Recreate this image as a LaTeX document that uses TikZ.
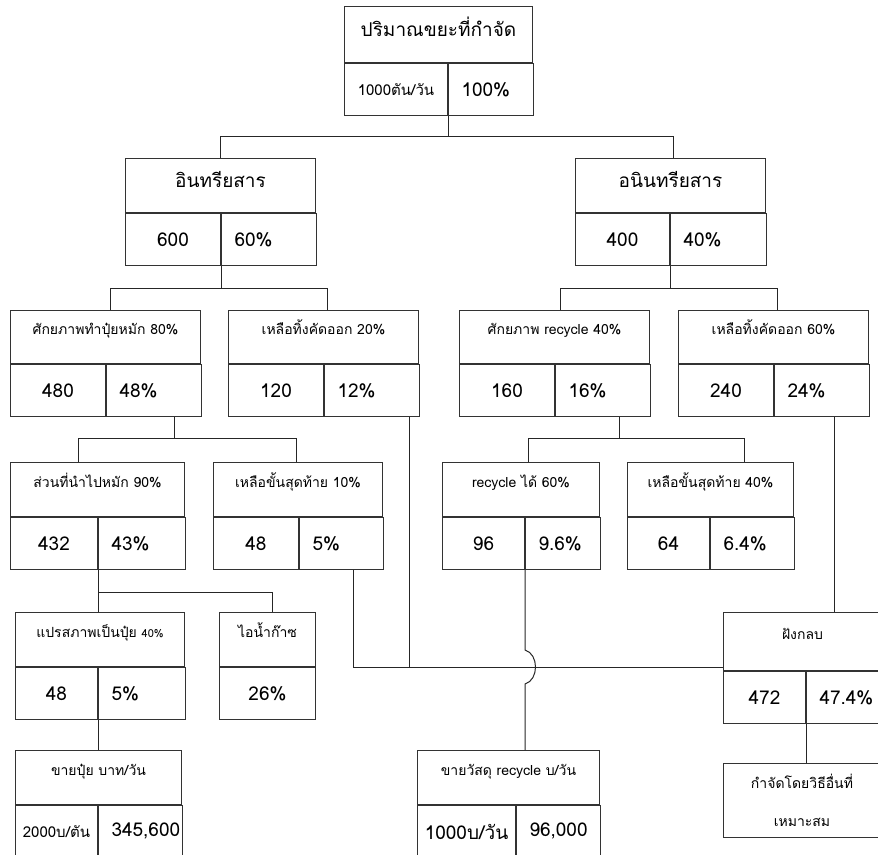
\documentclass[tikz,border=0pt]{standalone}
\usepackage{fontspec}
\newfontfamily\thaifont[Script=Thai]{Loma}
\usetikzlibrary{calc}
\newcommand\szA{\fontsize{19}{22}\selectfont}
\newcommand\szV{\fontsize{19}{21}\selectfont}
\newcommand\szS{\fontsize{15}{17}\selectfont}
\tikzset{
  box/.style={draw=black!80, line width=1pt, inner sep=0pt, anchor=north west,
    font=\thaifont\fontsize{14}{16}\selectfont},
  headA/.style={minimum height=54, text height=14pt, text depth=10pt, font=\thaifont\szA},
  headB/.style={minimum height=54, text height=10pt, text depth=15pt},
  link/.style={draw=black!85, line width=1pt},
}
% box with a title row and two value cells
\newcommand\tbox[9]{%
  \pgfmathsetmacro\rtw{#5-26}%
  \node[box, minimum width=#4+#5, #6] (#1) at (#2,#3) {#7};
  \node[box, minimum width=#4, minimum height=52] (#1l) at (#1.south west) {\szV #8};
  \node[box, minimum width=#5, minimum height=52, text width=\rtw pt, align=left]
    (#1r) at (#1l.north east) {\szV #9};
}
\begin{document}
\begin{tikzpicture}[x=1pt,y=-1pt]
  \useasboundingbox (0,0) rectangle (878,854);
  \clip (0,0) rectangle (878,854);
  % level 0 and 1
  \tbox{tot}{344}{6}{103}{85}{headA, minimum height=56}{ปริมาณขยะที่กำจัด}{\szS 1000ตัน/วัน}{100\%}
  \tbox{org}{125}{158}{95}{95}{headA}{อินทรียสาร}{600}{60\%}
  \tbox{inorg}{575}{158}{94}{96}{headA}{อนินทรียสาร}{400}{40\%}
  % level 2
  \tbox{comp}{10}{310}{95}{95}{headB, minimum height=53}{ศักยภาพทำปุ๋ยหมัก 80\%}{480}{48\%}
  \tbox{rej1}{228}{310}{95}{95}{headB, minimum height=53}{เหลือทิ้งคัดออก 20\%}{120}{12\%}
  \tbox{recy}{459}{310}{95}{95}{headB, minimum height=53}{ศักยภาพ recycle 40\%}{160}{16\%}
  \tbox{rej2}{678}{310}{95}{95}{headB, minimum height=53}{เหลือทิ้งคัดออก 60\%}{240}{24\%}
  % level 3
  \tbox{part}{10}{462}{87}{87}{headB}{ส่วนที่นำไปหมัก 90\%}{432}{43\%}
  \tbox{last1}{213}{462}{85}{84}{headB}{เหลือขั้นสุดท้าย 10\%}{48}{5\%}
  \tbox{recok}{442}{462}{82}{75}{headB}{recycle ได้ 60\%}{96}{9.6\%}
  \tbox{last2}{627}{462}{82}{84}{headB}{เหลือขั้นสุดท้าย 40\%}{64}{6.4\%}
  % level 4
  \tbox{fert}{15}{612}{82}{87}{headB}{แปรสภาพเป็นปุ๋ย {\fontsize{11}{13}\selectfont 40\%}}{48}{5\%}
  \node[box, headB] (steam) at (219,612) [minimum width=96] {ไอน้ำก๊าซ};
  \node[box, minimum width=96, minimum height=52] (steamv) at (steam.south west) {\szV 26\%};
  \tbox{land}{723}{612}{82}{76}{headB, minimum height=58}{ฝังกลบ}{472}{47.4\%}
  % level 5
  \tbox{sellf}{15}{750}{82}{84}{headB}{ขายปุ๋ย บาท/วัน}{\szS 2000บ/ตัน}{345,600}
  \tbox{sellr}{417}{750}{98}{84}{headB}{ขายวัสดุ recycle บ/วัน}{1000บ/วัน}{96,000}
  \node[box, minimum width=157, minimum height=74, align=center,
    font=\thaifont\fontsize{14}{38}\selectfont] (other) at (723,763) {กำจัดโดยวิธีอื่นที่\\เหมาะสม};

  % connectors
  \draw[link] (totl.south east) -- ++(0,20) coordinate (j0) -| (org.north);
  \draw[link] (j0) -| ([xshift=3]inorg.north);
  \draw[link] (orgl.south east) -- ++(0,22) coordinate (j1) -| ([xshift=5]comp.north);
  \draw[link] (j1) -| ([xshift=4]rej1.north);
  \draw[link] (inorgl.south east) -- ++(0,22) coordinate (j2) -| ([xshift=6]recy.north);
  \draw[link] (j2) -| ([xshift=4]rej2.north);
  \draw[link] ([xshift=20]compr.south) -- ++(0,21) coordinate (j3) -| ([xshift=-19]part.north);
  \draw[link] (j3) -| ([xshift=-2]last1.north);
  \draw[link] ([xshift=16]recyr.south) -- ++(0,21) coordinate (j4) -| ([xshift=7]recok.north);
  \draw[link] (j4) -| ([xshift=34]last2.north);
  \draw[link] (partl.south east) -- (partl.south east |- fert.north);
  \draw[link] ($(partl.south east)+(0,22)$) -| ([xshift=5]steam.north);
  \draw[link] (fertl.south east) -- (fertl.south east |- sellf.north);
  % to landfill
  \coordinate (lj) at ($(land.south west)+(0,-4)$);
  \coordinate (r1) at ($(rej1r.south east)+(-11,0)$);
  \coordinate (r2) at ($(rej2r.south)+(12,0)$);
  \draw[link] ([xshift=12]last1r.south) |- (lj);
  \draw[link] (r1) -- (r1 |- lj);
  \draw[link] (r2) -- (r2 |- land.north);
  \draw[link] (landl.south east) -- (landl.south east |- other.north);
  % recycle line jumps over
  \coordinate (jp) at (recokl.south east |- lj);
  \draw[link] (recokl.south east) -- ($(jp)+(0,-17)$)
    .. controls +(14,4) and +(14,-4) .. ($(jp)+(0,17)$)
    -- (recokl.south east |- sellr.north);
\end{tikzpicture}
\end{document}
